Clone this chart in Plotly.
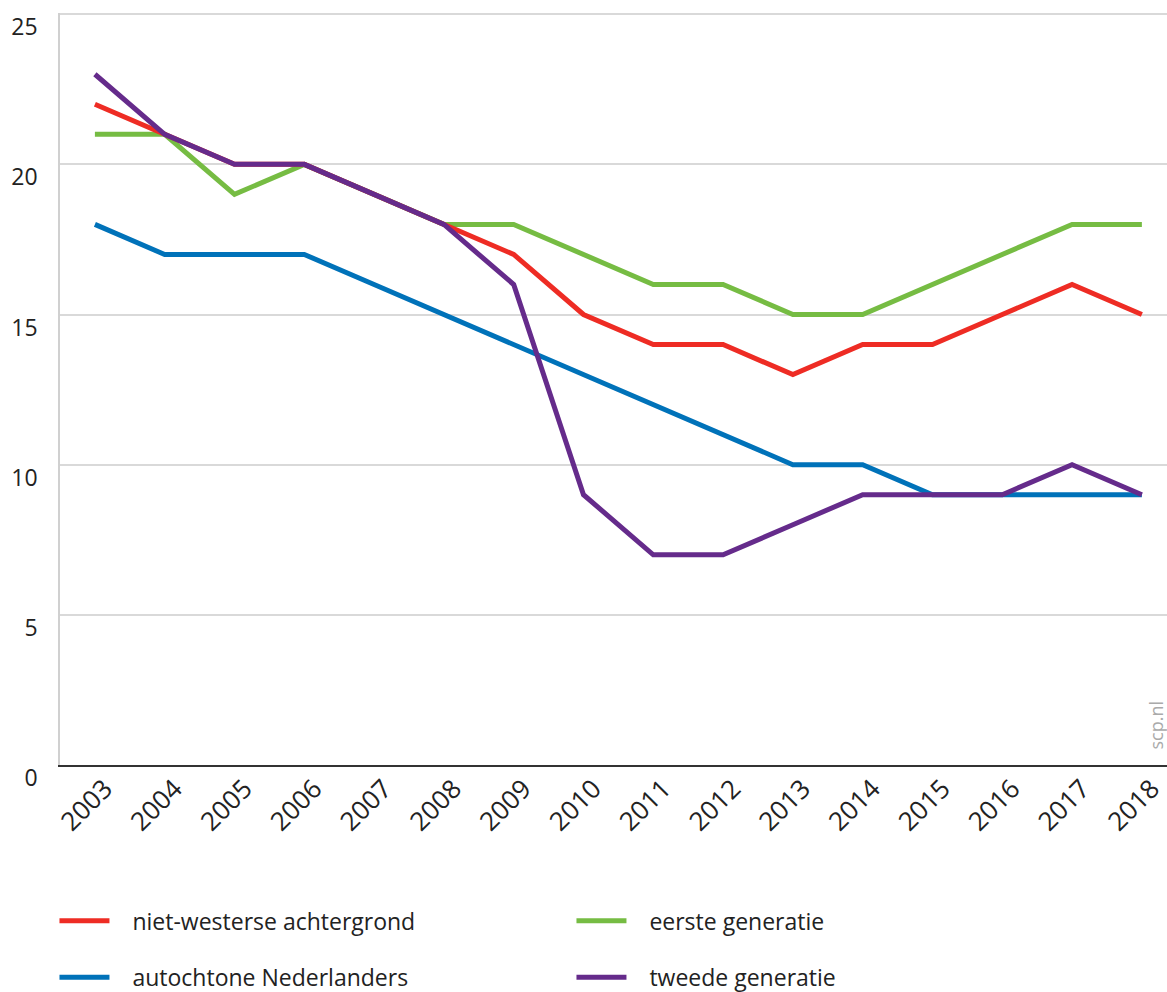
import plotly.graph_objects as go

years = list(range(2003, 2019))

niet_westers = [22, 21, 20, 20, 19, 18, 17, 15, 14, 14, 13, 14, 14, 15, 16, 15]
eerste_generatie = [21, 21, 19, 20, 19, 18, 18, 17, 16, 16, 15, 15, 16, 17, 18, 18]
autochtoon = [18, 17, 17, 17, 16, 15, 14, 13, 12, 11, 10, 10, 9, 9, 9, 9]
tweede_generatie = [23, 21, 20, 20, 19, 18, 16, 9, 7, 7, 8, 9, 9, 9, 10, 9]

y_ticks = [0, 5, 10, 15, 20, 25]

FONT = "Open Sans"
TEXT = "#222222"
PAD = "\u00a0\u00a0\u00a0"

# drawing order: green under red, blue, purple on top
series = [
    ("eerste generatie", eerste_generatie, "#76bc43", "legend", 2),
    ("niet-westerse achtergrond", niet_westers, "#ee2c24", "legend", 1),
    ("autochtone Nederlanders", autochtoon, "#0072b9", "legend2", 3),
    ("tweede generatie", tweede_generatie, "#652b8b", "legend2", 4),
]

fig = go.Figure()
for name, vals, color, leg, rank in series:
    fig.add_trace(go.Scatter(
        x=years, y=vals, name=PAD + name, mode="lines",
        line=dict(color=color, width=5),
        legend=leg, legendrank=rank,
    ))

legend_common = dict(
    orientation="h",
    xanchor="left",
    yanchor="middle",
    x=-0.005,
    entrywidth=452,
    entrywidthmode="pixels",
    itemwidth=50,
    font=dict(family=FONT, size=23, color=TEXT),
    bgcolor="rgba(0,0,0,0)",
)

fig.update_layout(
    width=1167,
    height=992,
    margin=dict(l=60, r=0, t=13, b=227, autoexpand=False),
    paper_bgcolor="white",
    plot_bgcolor="white",
    font=dict(family=FONT, color=TEXT),
    showlegend=True,
    legend=dict(legend_common, y=-0.2073),
    legend2=dict(legend_common, y=-0.2823),
    xaxis=dict(
        range=[2002.5, 2018.36],
        tickmode="array",
        tickvals=years,
        ticktext=[str(y) for y in years],
        tickangle=-45,
        tickfont=dict(family=FONT, size=26, color=TEXT),
        ticklabelstandoff=-4,
        ticklabelshift=10,
        showgrid=False,
        zeroline=False,
        showline=True,
        linecolor="#333333",
        linewidth=2,
        ticks="",
    ),
    yaxis=dict(
        range=[0, 25.04],
        tickmode="array",
        tickvals=y_ticks,
        ticktext=[str(v) for v in y_ticks],
        tickfont=dict(family=FONT, size=23, color=TEXT),
        ticklabelstandoff=16,
        ticklabelshift=13,
        showgrid=True,
        gridcolor="#d9d9d9",
        gridwidth=1.5,
        zeroline=False,
        showline=True,
        linecolor="#d0d0d0",
        linewidth=1.5,
        ticks="",
    ),
    annotations=[dict(
        text="scp.nl",
        xref="paper", yref="paper",
        x=1.0, y=(765 - 752) / 751,
        xanchor="right", yanchor="bottom",
        xshift=3,
        textangle=-90,
        showarrow=False,
        font=dict(family=FONT, size=18, color="#aaaaaa"),
    )],
)

fig.write_html("out.html")
